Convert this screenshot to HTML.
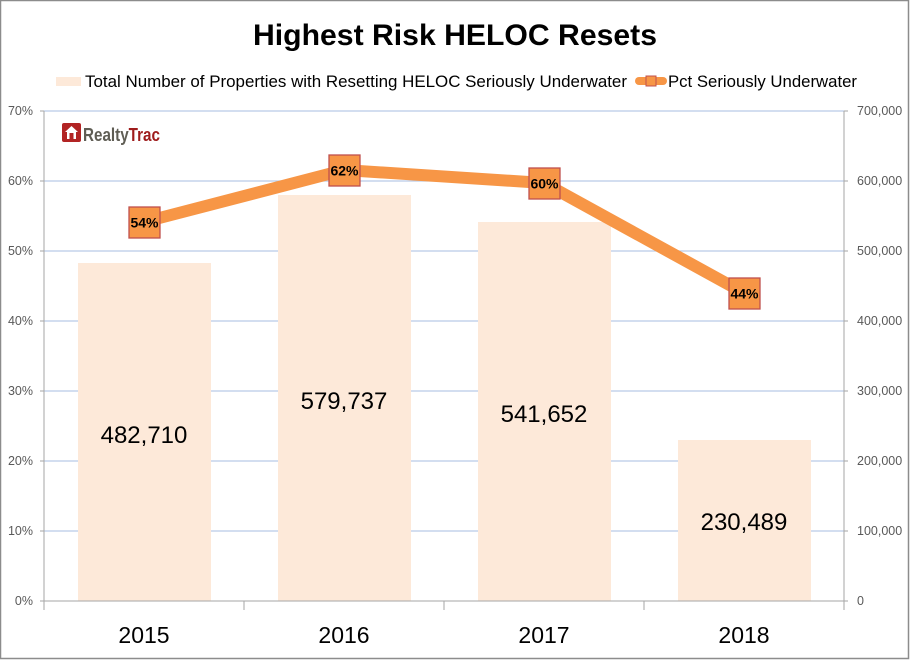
<!DOCTYPE html>
<html><head><meta charset="utf-8"><style>
html,body{margin:0;padding:0;background:#fff;}
svg{display:block;}
text{font-family:"Liberation Sans",sans-serif;}
</style></head><body>
<svg width="910" height="660" viewBox="0 0 910 660" xmlns="http://www.w3.org/2000/svg">
<rect x="0.5" y="0.5" width="908" height="658" fill="#fff" stroke="#8c8c8c" stroke-width="1.5"/>
<!-- title -->
<text x="455" y="45" text-anchor="middle" font-size="30" font-weight="bold" fill="#000" textLength="404" lengthAdjust="spacingAndGlyphs">Highest Risk HELOC Resets</text>
<!-- legend -->
<rect x="56" y="77" width="25" height="9" fill="#FDE9D9"/>
<text x="85" y="87" font-size="17" fill="#000" textLength="542" lengthAdjust="spacingAndGlyphs">Total Number of Properties with Resetting HELOC Seriously Underwater</text>
<line x1="639" y1="81" x2="663" y2="81" stroke="#F79646" stroke-width="8" stroke-linecap="round"/>
<rect x="646" y="76" width="10" height="10" fill="#F79646" stroke="#C0504D" stroke-width="1"/>
<text x="668" y="87" font-size="17" fill="#000" textLength="189" lengthAdjust="spacingAndGlyphs">Pct Seriously Underwater</text>
<!-- gridlines -->
<g stroke="#B9CBE6" stroke-width="1.3">
<line x1="44" y1="111" x2="844" y2="111"/>
<line x1="44" y1="181" x2="844" y2="181"/>
<line x1="44" y1="251" x2="844" y2="251"/>
<line x1="44" y1="321" x2="844" y2="321"/>
<line x1="44" y1="391" x2="844" y2="391"/>
<line x1="44" y1="461" x2="844" y2="461"/>
<line x1="44" y1="531" x2="844" y2="531"/>
</g>
<!-- bars -->
<g fill="#FDE9D9">
<rect x="78" y="263" width="133" height="338"/>
<rect x="278" y="195" width="133" height="406"/>
<rect x="478" y="222" width="133" height="379"/>
<rect x="678" y="440" width="133" height="161"/>
</g>
<!-- axes -->
<g stroke="#A6A6A6" stroke-width="1">
<line x1="44" y1="111" x2="44" y2="601"/>
<line x1="844" y1="111" x2="844" y2="610"/>
<line x1="40" y1="601" x2="848" y2="601"/>
<line x1="40" y1="111" x2="44" y2="111"/><line x1="40" y1="181" x2="44" y2="181"/><line x1="40" y1="251" x2="44" y2="251"/><line x1="40" y1="321" x2="44" y2="321"/><line x1="40" y1="391" x2="44" y2="391"/><line x1="40" y1="461" x2="44" y2="461"/><line x1="40" y1="531" x2="44" y2="531"/>
<line x1="844" y1="111" x2="848" y2="111"/><line x1="844" y1="181" x2="848" y2="181"/><line x1="844" y1="251" x2="848" y2="251"/><line x1="844" y1="321" x2="848" y2="321"/><line x1="844" y1="391" x2="848" y2="391"/><line x1="844" y1="461" x2="848" y2="461"/><line x1="844" y1="531" x2="848" y2="531"/>
<line x1="44" y1="601" x2="44" y2="610"/><line x1="244" y1="601" x2="244" y2="610"/><line x1="444" y1="601" x2="444" y2="610"/><line x1="644" y1="601" x2="644" y2="610"/>
</g>
<!-- left labels -->
<g font-size="12.5" fill="#595959" text-anchor="end">
<text x="33" y="115">70%</text><text x="33" y="185">60%</text><text x="33" y="255">50%</text><text x="33" y="325">40%</text><text x="33" y="395">30%</text><text x="33" y="465">20%</text><text x="33" y="535">10%</text><text x="33" y="605">0%</text>
</g>
<g font-size="12.5" fill="#595959">
<text x="857" y="115">700,000</text><text x="857" y="185">600,000</text><text x="857" y="255">500,000</text><text x="857" y="325">400,000</text><text x="857" y="395">300,000</text><text x="857" y="465">200,000</text><text x="857" y="535">100,000</text><text x="857" y="605">0</text>
</g>
<!-- x labels -->
<g font-size="23" fill="#000" text-anchor="middle">
<text x="144" y="643">2015</text><text x="344" y="643">2016</text><text x="544" y="643">2017</text><text x="744" y="643">2018</text>
</g>
<!-- bar labels -->
<g font-size="24" fill="#000" text-anchor="middle">
<text x="144" y="443">482,710</text>
<text x="344" y="409">579,737</text>
<text x="544" y="422">541,652</text>
<text x="744" y="530">230,489</text>
</g>
<!-- line -->
<polyline points="144,222 344,170 544,183 744,293" fill="none" stroke="#F79646" stroke-width="12" stroke-linejoin="round"/>
<g fill="#F79646" stroke="#C0504D" stroke-width="1.3">
<rect x="129" y="207" width="31" height="31"/>
<rect x="329" y="155" width="31" height="31"/>
<rect x="529" y="168" width="31" height="31"/>
<rect x="729" y="278" width="31" height="31"/>
</g>
<g font-size="14" font-weight="bold" fill="#000" text-anchor="middle">
<text x="144.5" y="227.5">54%</text>
<text x="344.5" y="175.5">62%</text>
<text x="544.5" y="188.5">60%</text>
<text x="744.5" y="298.5">44%</text>
</g>
<!-- logo -->
<rect x="62" y="123" width="19" height="19" rx="2" fill="#B22424"/>
<path d="M71.5 126 L78 132 L76 132 L76 139 L67 139 L67 132 L65 132 Z" fill="#fff"/>
<rect x="69.5" y="133" width="4" height="6" fill="#B22424"/>
<text x="83" y="141" font-size="18" font-weight="bold" textLength="77" lengthAdjust="spacingAndGlyphs"><tspan fill="#5F5D54">Realty</tspan><tspan fill="#9E1C1C">Trac</tspan></text>
</svg>
</body></html>
